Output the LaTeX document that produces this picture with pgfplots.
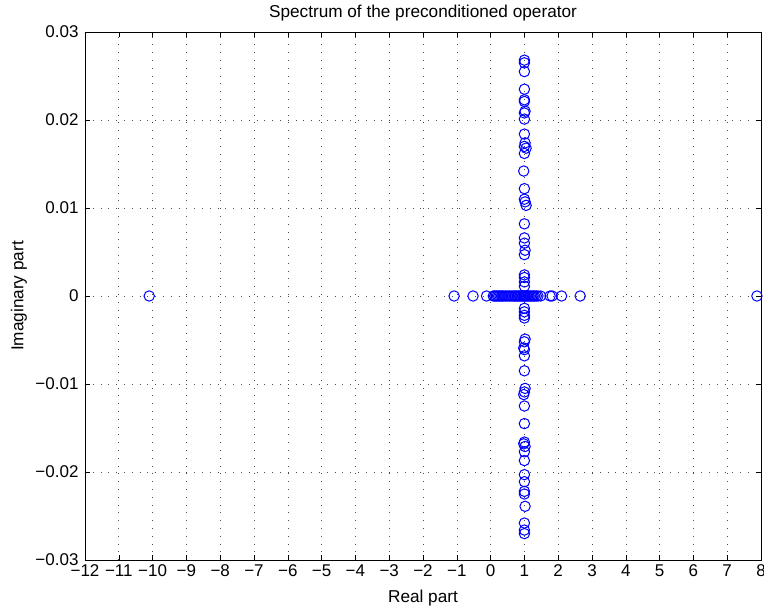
\documentclass[border=0pt]{standalone}
\usepackage{pgfplots}
\pgfplotsset{compat=1.18}
\usepackage{fontspec}
\setmainfont{Liberation Sans}
\begin{document}
\begin{tikzpicture}
\useasboundingbox (-85bp,-52bp) rectangle (679bp,560bp);
\begin{axis}[
  at={(0,0)}, anchor=south west,
  scale only axis, width=676bp, height=528bp,
  xmin=-12, xmax=8, ymin=-0.03, ymax=0.03,
  xtick={-12,-11,...,8},
  xticklabels={−12,−11,−10,−9,−8,−7,−6,−5,−4,−3,−2,−1,0,1,2,3,4,5,6,7,8},
  ytick={-0.03,-0.02,-0.01,0,0.01,0.02,0.03},
  yticklabels={−0.03,−0.02,−0.01,0,0.01,0.02,0.03},
  scaled y ticks=false,
  font=\fontsize{17.2bp}{19bp}\selectfont,
  tick label style={font=\fontsize{17bp}{19bp}\selectfont},
  tick pos=both, tick align=inside, major tick length=5bp,
  tick style={black, line width=0.5bp},
  axis line style={black, line width=0.8bp},
  grid=major,
  major grid style={black!70, line width=0.6bp, dash pattern=on 0.8bp off 7bp},
  xticklabel style={yshift=-1bp},
  yticklabel style={xshift=-3bp},
  title={Spectrum of the preconditioned operator},
  title style={at={(axis description cs:0.5,1)}, anchor=center, yshift=13bp},
  xlabel={Real part},
  xlabel style={at={([yshift=-38bp]axis description cs:0.5,0)}, anchor=center},
  ylabel={Imaginary part},
  ylabel style={at={([xshift=-66bp]axis description cs:0,0.5)}, anchor=center, rotate=0},
  clip=false,
]
\addplot[only marks, mark=o, mark size=5.2bp, color={rgb,255:red,0;green,0;blue,255}, mark options={line width=1bp}] coordinates {
(-10.1,0) (-1.08,0) (-0.52,0) (-0.12,0) (0.08,0) (0.12,0) (0.16,0) (0.2,0) (0.24,0) (0.28,0) (0.32,0) (0.36,0) (0.40,0) (0.45,0) (0.5,0) (0.55,0) (0.6,0) (0.65,0) (0.7,0) (0.74,0) (0.78,0) (0.82,0) (0.86,0) (0.9,0) (0.94,0) (0.98,0) (1.0,0) (1.02,0) (1.06,0) (1.1,0) (1.14,0) (1.18,0) (1.22,0) (1.26,0) (1.3,0) (1.35,0) (1.4,0) (1.48,0) (1.76,0) (1.82,0) (2.1,0) (2.65,0) (7.88,0)
(1.0,0.0268) (1.0,0.0265) (1.0,0.0255) (1.0,0.0235) (1.0,0.0223) (1.0,0.0221) (1.02,0.0210) (1.0,0.0208) (1.0,0.0201) (1.0,0.0184) (1.02,0.0174) (1.0,0.0170) (1.05,0.0168) (1.0,0.0162) (0.98,0.0142) (1.0,0.0122) (1.0,0.0110) (1.02,0.0107) (1.05,0.0103) (1.0,0.0082) (1.0,0.0066) (1.0,0.0060) (1.02,0.0052) (1.0,0.0047) (1.0,0.0024) (1.0,0.0021) (1.0,0.0016) (1.0,0.0011)
(1.0,-0.0014) (1.0,-0.0018) (1.0,-0.0022) (1.0,-0.0025) (1.02,-0.0049) (1.0,-0.0052) (0.98,-0.0059) (1.0,-0.0061) (1.0,-0.0068) (1.0,-0.0085) (1.02,-0.0105) (1.0,-0.0109) (0.98,-0.0112) (1.0,-0.0125) (1.0,-0.0145) (1.0,-0.0166) (0.98,-0.0168) (1.02,-0.0171) (1.0,-0.0177) (1.0,-0.0187) (1.0,-0.0203) (1.0,-0.0211) (1.0,-0.0222) (1.0,-0.0225) (1.02,-0.0239) (1.0,-0.0258) (1.0,-0.0266) (1.0,-0.0270)
};
\end{axis}
\end{tikzpicture}
\end{document}
